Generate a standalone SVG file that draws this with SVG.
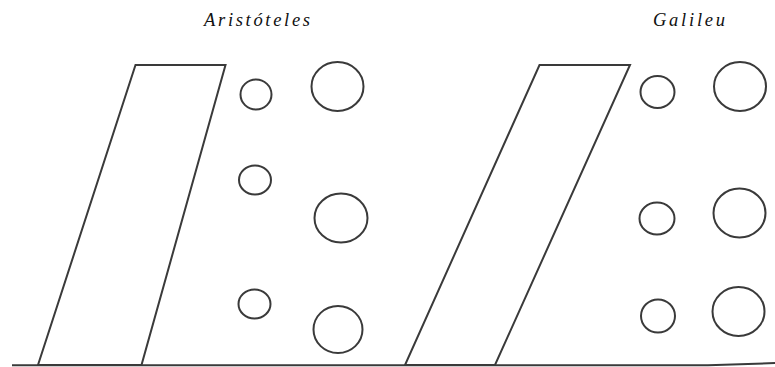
<svg xmlns="http://www.w3.org/2000/svg" width="775" height="367" viewBox="0 0 775 367">
<style>
.s{fill:none;stroke:#3a3a3a;stroke-width:2;stroke-linejoin:miter}
.t{font-family:"Liberation Serif",serif;font-style:italic;font-size:18.5px;fill:#111}
</style>
<rect width="775" height="367" fill="#fff"/>
<g id="label-aristoteles"><text class="t" x="204" y="26" textLength="106" lengthAdjust="spacing">Aristóteles</text></g>
<g id="label-galileu"><text class="t" x="653" y="26" textLength="72" lengthAdjust="spacing">Galileu</text></g>
<g id="ground"><path class="s" d="M12 365.3 L708 365.3 L775 363"/></g>
<g id="plane-left"><polygon class="s" points="135.5,65 225.5,65 141.5,365 38,365"/></g>
<g id="plane-right"><polygon class="s" points="539.5,65 630,65 495,365 405,365"/></g>
<g id="ar-small-1"><ellipse class="s" cx="256" cy="94.5" rx="15.5" ry="15"/></g>
<g id="ar-big-1"><ellipse class="s" cx="337.5" cy="86.5" rx="26" ry="24.5"/></g>
<g id="ar-small-2"><ellipse class="s" cx="255" cy="180" rx="16" ry="14.5"/></g>
<g id="ar-big-2"><ellipse class="s" cx="341" cy="218" rx="26.5" ry="24.5"/></g>
<g id="ar-small-3"><ellipse class="s" cx="254.5" cy="304" rx="16" ry="14.5"/></g>
<g id="ar-big-3"><ellipse class="s" cx="338" cy="329.5" rx="24.5" ry="23.5"/></g>
<g id="ga-small-1"><ellipse class="s" cx="657.5" cy="92" rx="17" ry="16"/></g>
<g id="ga-big-1"><ellipse class="s" cx="740" cy="86.5" rx="26" ry="24.5"/></g>
<g id="ga-small-2"><ellipse class="s" cx="657" cy="218.5" rx="17.5" ry="16"/></g>
<g id="ga-big-2"><ellipse class="s" cx="739.5" cy="213" rx="26" ry="24.5"/></g>
<g id="ga-small-3"><ellipse class="s" cx="658" cy="316" rx="17" ry="16.5"/></g>
<g id="ga-big-3"><ellipse class="s" cx="738.5" cy="311.5" rx="26" ry="24.5"/></g>
</svg>
